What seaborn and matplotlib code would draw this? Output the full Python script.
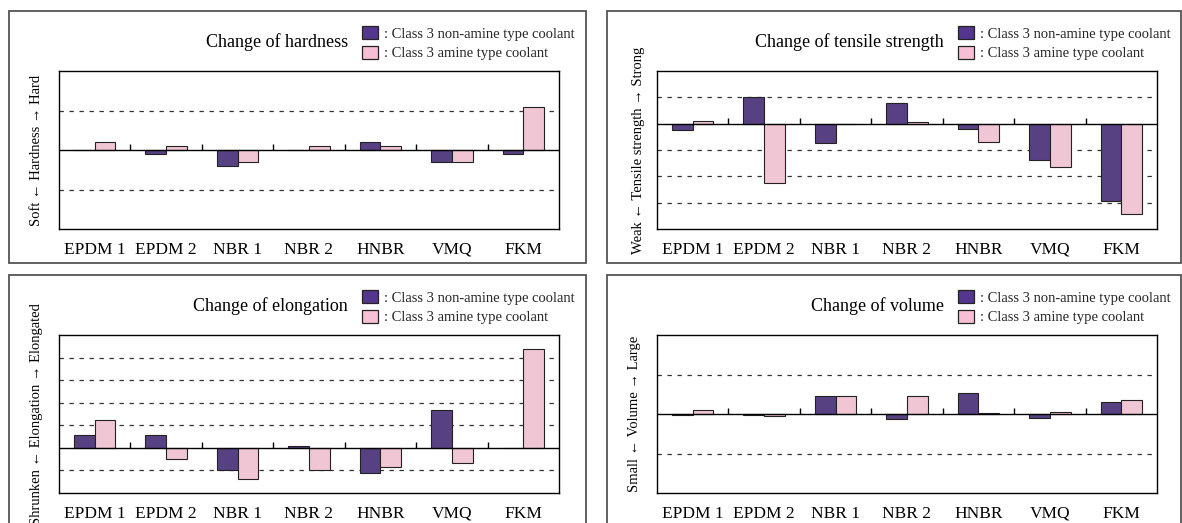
import numpy as np
import pandas as pd
import matplotlib.pyplot as plt
import matplotlib.patches as mpatches
import seaborn as sns

# ── Data (in grid units) ─────────────────────────────────────────────────────
categories = ["EPDM 1", "EPDM 2", "NBR 1", "NBR 2", "HNBR", "VMQ", "FKM"]
series_names = ["Class 3 non-amine type coolant", "Class 3 amine type coolant"]

hardness_non_amine = [0.0, -0.09, -0.40, 0.0, 0.21, -0.30, -0.09]
hardness_amine     = [0.21, 0.11, -0.30, 0.11, 0.11, -0.30, 1.10]

tensile_non_amine = [-0.25, 1.00, -0.73, 0.80, -0.20, -1.37, -2.94]
tensile_amine     = [0.09, -2.25, -0.03, 0.08, -0.70, -1.65, -3.44]

elongation_non_amine = [0.56, 0.59, -1.00, 0.09, -1.13, 1.69, -0.02]
elongation_amine     = [1.23, -0.49, -1.39, -0.96, -0.83, -0.67, 4.36]

volume_non_amine = [-0.02, -0.02, 0.46, -0.12, 0.53, -0.09, 0.30]
volume_amine     = [0.09, -0.04, 0.46, 0.45, 0.02, 0.05, 0.35]

# ── Style ────────────────────────────────────────────────────────────────────
PURPLE = "#55368e"
PINK   = "#f7bfd3"
EDGE   = "#222222"

W, H = 1182, 523
sns.set_theme(style="white")
plt.rcParams["font.family"] = ["Liberation Serif", "DejaVu Serif"]

fig = plt.figure(figsize=(W / 100, H / 100), dpi=100)


def fx(px):
    return px / W


def fy(py):
    return 1 - py / H


panels = [
    dict(title="Change of hardness", ylabel="Soft \u2190 Hardness \u2192 Hard",
         non=hardness_non_amine, amine=hardness_amine,
         ylim=(-2, 2), grid=[-1, 1], col=0, row=0, labelpad=8),
    dict(title="Change of tensile strength",
         ylabel="Weak \u2190 Tensile strength \u2192 Strong",
         non=tensile_non_amine, amine=tensile_amine,
         ylim=(-4, 2), grid=[1, -1, -2, -3], col=1, row=0, labelpad=5),
    dict(title="Change of elongation",
         ylabel="Shrunken \u2190 Elongation \u2192 Elongated",
         non=elongation_non_amine, amine=elongation_amine,
         ylim=(-2, 5), grid=[-1, 1, 2, 3, 4], col=0, row=1, labelpad=8),
    dict(title="Change of volume", ylabel="Small \u2190 Volume \u2192 Large",
         non=volume_non_amine, amine=volume_amine,
         ylim=(-2, 2), grid=[-1, 1], col=1, row=1, labelpad=8),
]

# pixel geometry per column / row
frame_x  = [(9, 586), (607, 1181)]
plot_x   = [(59, 559), (657, 1157)]
legend_x = [362, 958]
row_off  = [0, 264]

for p in panels:
    dy = row_off[p["row"]]
    x0, x1 = plot_x[p["col"]]
    y0, y1 = 71 + dy, 229 + dy

    # outer frame of the panel
    fx0, fx1 = frame_x[p["col"]]
    fig.add_artist(mpatches.Rectangle(
        (fx(fx0), fy(263 + dy)), fx(fx1 - fx0), (263 - 11) / H,
        transform=fig.transFigure, fill=False, edgecolor="#555555", lw=1.3))

    ax = fig.add_axes([fx(x0), fy(y1), fx(x1 - x0), (y1 - y0) / H])

    df = pd.DataFrame({
        "material": categories * 2,
        "coolant": [series_names[0]] * len(categories) + [series_names[1]] * len(categories),
        "value": list(p["non"]) + list(p["amine"]),
    })
    sns.barplot(data=df, x="material", y="value", hue="coolant",
                order=categories, hue_order=series_names,
                palette=[PURPLE, PINK], width=0.58, gap=0,
                edgecolor=EDGE, linewidth=0.8, legend=False, ax=ax, zorder=3)

    ax.set_ylim(*p["ylim"])
    ax.set_xlim(-0.5, len(categories) - 0.5)
    ax.set_yticks(p["grid"])
    ax.set_yticklabels([])
    ax.tick_params(axis="y", length=0)
    ax.tick_params(axis="x", length=0, pad=9, labelsize=12.5, colors="black")
    ax.grid(axis="y", color="#333333", lw=0.9, linestyle=(0, (3.5, 4.5)))
    ax.grid(axis="x", visible=False)
    ax.set_axisbelow(True)
    for s in ax.spines.values():
        s.set_color("black")
        s.set_linewidth(1.0)

    # zero axis with small category-boundary ticks
    ax.axhline(0, color="black", lw=1.0, zorder=4)
    tick_h = (p["ylim"][1] - p["ylim"][0]) * 6 / 158
    ax.vlines(np.arange(len(categories) - 1) + 0.5, 0, tick_h,
              color="black", lw=1.0, zorder=4)

    ax.set_xlabel("")
    ax.set_ylabel(p["ylabel"], fontsize=10.5, labelpad=p["labelpad"], color="black")

    # title + legend block in the top-right corner of the frame
    lx = legend_x[p["col"]]
    fig.text(fx(lx - 14), fy(42 + dy), p["title"], ha="right", va="center",
             fontsize=13, color="black")
    handles = [mpatches.Patch(facecolor=c, edgecolor=EDGE, lw=0.9) for c in (PURPLE, PINK)]
    ax.legend(handles, [": " + s for s in series_names], loc="upper left",
              bbox_to_anchor=(fx(lx), fy(26 + dy)), bbox_transform=fig.transFigure,
              frameon=False, fontsize=10.5, handlelength=1.1, handleheight=1.0,
              handletextpad=0.4, labelspacing=0.35, borderpad=0, borderaxespad=0)

fig.savefig("out.png", dpi=100)
